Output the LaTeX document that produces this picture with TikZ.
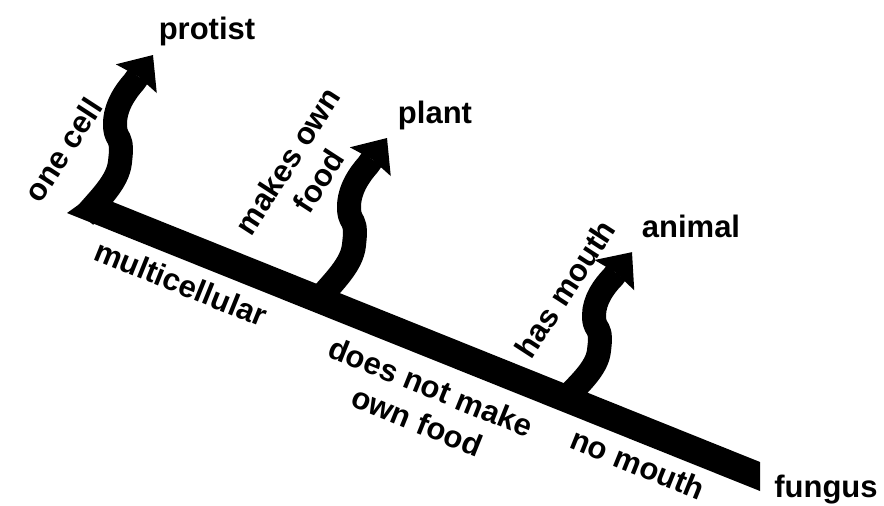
\documentclass[tikz,border=0pt]{standalone}
\usepackage{fontspec}
\setmainfont{Liberation Sans}
\usetikzlibrary{arrows.meta}
\begin{document}
\begin{tikzpicture}[x=1pt,y=-1pt,
  branchline/.style={line width=24pt, line join=round, -{Stealth[width=50pt,length=29pt,inset=3pt,line width=0pt]}},
  lbl/.style={font=\fontsize{31}{37}\selectfont\bfseries, inner sep=0pt, align=center},
  twig/.pic={\draw[branchline] (-5,10) .. controls (10,-8) and (29,-25) .. (31,-45)
      .. controls (32,-55) and (33,-62) .. (30,-68)
      .. controls (27,-73) and (26,-76) .. (26,-83)
      .. controls (26,-100) and (36,-115) .. (45,-125) -- (64,-152);}
]
\useasboundingbox (0,0) rectangle (884,506);
\fill[white] (0,0) rectangle (884,506);
% trunk
\coordinate (tA) at (67,213);
\coordinate (tB) at (760,491);
\coordinate (tC) at (760,462);
\coordinate (tD) at (108,200);
\coordinate (tE) at (95,193);
\fill (tA) -- (tB) -- (tC) -- (tD) -- (tE) -- cycle;
% branches
\coordinate (bProtist) at (89,207);
\coordinate (bPlant) at (323,290);
\coordinate (bAnimal) at (568,392);
\pic at (bProtist) {twig};
\pic at (bPlant) {twig};
\pic[yscale=0.92] at (bAnimal) {twig};
% end labels
\node[lbl, anchor=base] (protist) at (207,39) {protist};
\node[lbl, anchor=base] (plant) at (435,123) {plant};
\node[lbl, anchor=base] (animal) at (691,237) {animal};
\node[lbl, anchor=base] (fungus) at (826,497) {fungus};
% branch labels
\node[lbl, rotate=57] (onecell) at (63,150) {one cell};
\node[lbl, rotate=57] (makes) at (303,171) {makes own\\food};
\node[lbl, rotate=57] (hasmouth) at (565,289) {has mouth};
\node[lbl, rotate=-22] (multi) at (181,283) {multicellular};
\node[lbl, rotate=-22] (doesnot) at (424,404) {does not make\\own food};
\node[lbl, rotate=-22] (nomouth) at (638,464) {no mouth};
\end{tikzpicture}
\end{document}
